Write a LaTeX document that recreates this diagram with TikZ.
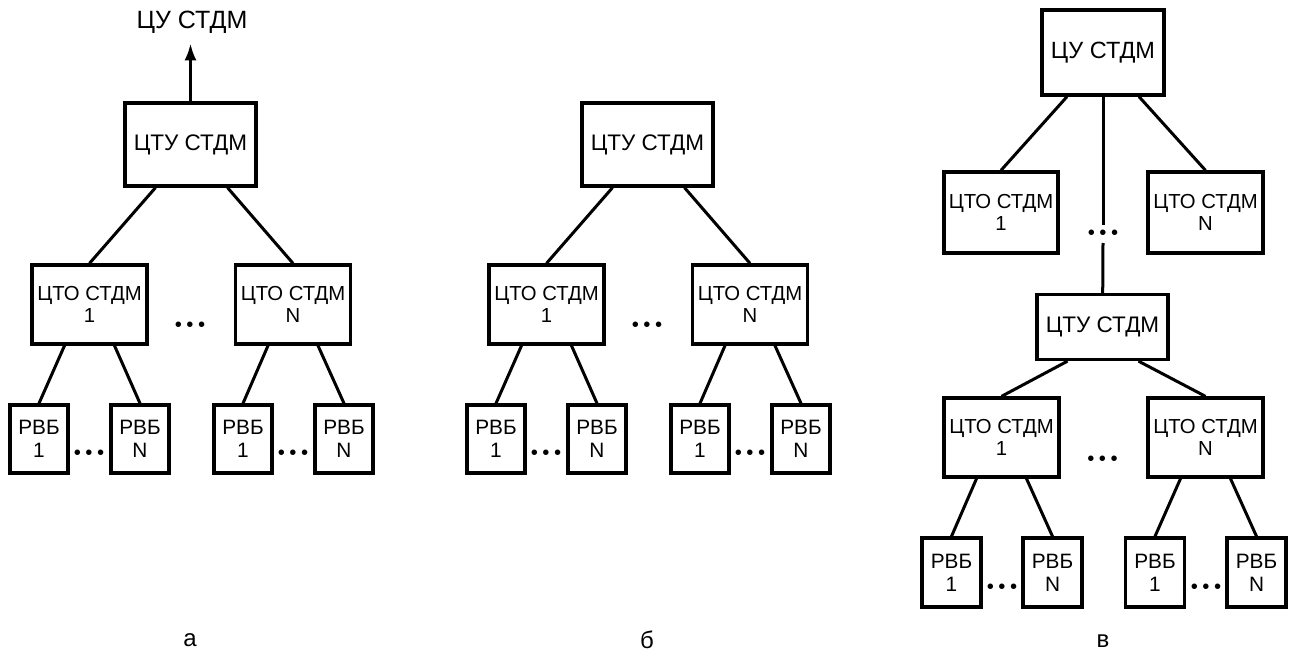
\documentclass[tikz,border=0pt]{standalone}
\usepackage{fontspec}
\setmainfont{Liberation Sans}
\usetikzlibrary{arrows.meta,positioning,calc}

\newcommand{\dotsrow}{\textbullet\hspace{4.5pt}\textbullet\hspace{4.5pt}\textbullet}

\begin{document}
\begin{tikzpicture}[
    x=1pt, y=-1pt,
    every node/.style={font=\fontsize{20.3}{22}\selectfont},
    box/.style={draw, line width=3.3pt, align=center, inner sep=0pt, minimum width=115pt, minimum height=79pt},
    topbox/.style={box, minimum width=131pt, minimum height=83pt, font=\fontsize{22.5}{26}\selectfont},
    leafbox/.style={box, minimum width=58pt, minimum height=68pt, font=\fontsize{20.8}{23}\selectfont},
    gapdots/.style={inner sep=0pt, anchor=base, yshift=-6.5pt},
    caption/.style={font=\fontsize{24}{28}\selectfont},
    link/.style={line width=3pt},
    arr/.style={-{Latex[length=17pt,width=12pt]}, line width=3pt},
  ]
  \useasboundingbox (0,0) rectangle (1293,655);

  % Panel a
  \node[font=\fontsize{25}{28}\selectfont] (cu_a) at (192,22) {ЦУ СТДМ};
  \node[topbox] (ctu_a) at (190.5,144.5) {ЦТУ СТДМ};
  \node[box] (cto1_a) at (89.5,304.5) {ЦТО СТДМ\\1};
  \node[box] (ctoN_a) at (293,304.5) {ЦТО СТДМ\\N};
  \node[gapdots] (dots_a) at (190,325) {\dotsrow};
  \node[leafbox] (rvb11_a) at (39,439) {РВБ\\1};
  \node[leafbox] (rvb1N_a) at (140,439) {РВБ\\N};
  \node[leafbox] (rvbN1_a) at (243,439) {РВБ\\1};
  \node[leafbox] (rvbNN_a) at (344,439) {РВБ\\N};
  \node[gapdots] (dots1_a) at (89,453) {\dotsrow};
  \node[gapdots] (dotsN_a) at (293,453) {\dotsrow};
  \node[caption] (cap_a) at (190,640) {а};

  \draw[arr] (ctu_a.north) -- ($(ctu_a.north)+(0,-58)$) coordinate (tip_a);
  \draw[link] ($(ctu_a.south)+(-35,0)$) -- (cto1_a.north);
  \draw[link] ($(ctu_a.south)+(37,0)$) -- (ctoN_a.north);
  \draw[link] ($(cto1_a.south)+(-25,0)$) -- (rvb11_a.north);
  \draw[link] ($(cto1_a.south)+(25,0)$) -- (rvb1N_a.north);
  \draw[link] ($(ctoN_a.south)+(-25,0)$) -- (rvbN1_a.north);
  \draw[link] ($(ctoN_a.south)+(25,0)$) -- (rvbNN_a.north);

  % Panel b
  \node[topbox] (ctu_b) at (647.5,144.5) {ЦТУ СТДМ};
  \node[box] (cto1_b) at (546.5,304.5) {ЦТО СТДМ\\1};
  \node[box] (ctoN_b) at (750,304.5) {ЦТО СТДМ\\N};
  \node[gapdots] (dots_b) at (647,325) {\dotsrow};
  \node[leafbox] (rvb11_b) at (496,439) {РВБ\\1};
  \node[leafbox] (rvb1N_b) at (597,439) {РВБ\\N};
  \node[leafbox] (rvbN1_b) at (700,439) {РВБ\\1};
  \node[leafbox] (rvbNN_b) at (801,439) {РВБ\\N};
  \node[gapdots] (dots1_b) at (546,453) {\dotsrow};
  \node[gapdots] (dotsN_b) at (750,453) {\dotsrow};
  \node[caption] (cap_b) at (647,640) {б};

  \draw[link] ($(ctu_b.south)+(-35,0)$) -- (cto1_b.north);
  \draw[link] ($(ctu_b.south)+(37,0)$) -- (ctoN_b.north);
  \draw[link] ($(cto1_b.south)+(-25,0)$) -- (rvb11_b.north);
  \draw[link] ($(cto1_b.south)+(25,0)$) -- (rvb1N_b.north);
  \draw[link] ($(ctoN_b.south)+(-25,0)$) -- (rvbN1_b.north);
  \draw[link] ($(ctoN_b.south)+(25,0)$) -- (rvbNN_b.north);

  % Panel v: upper level
  \node[topbox, minimum width=122pt, minimum height=85pt, font=\fontsize{23.5}{26}\selectfont] (cu_v) at (1103,52.5) {ЦУ СТДМ};
  \node[box, minimum width=114pt, minimum height=81pt] (ctoU1_v) at (1001,212.5) {ЦТО СТДМ\\1};
  \node[box, minimum height=81pt] (ctoUN_v) at (1205.5,212.5) {ЦТО СТДМ\\N};
  \coordinate (gap_v) at (1103,233);
  \node[gapdots] (vdots_v) at (gap_v) {\dotsrow};
  \node[topbox, minimum height=65pt] (ctu_v) at (1102.5,327) {ЦТУ СТДМ};

  \draw[link] ($(cu_v.south)+(-36,0)$) -- (ctoU1_v.north);
  \draw[link] ($(cu_v.south)+(36,0)$) -- (ctoUN_v.north);
  \draw[link] (cu_v) -- ($(gap_v)+(0,-8)$);
  \draw[link] ($(gap_v)+(0,10)$) -- (ctu_v);

  % Panel v: lower level
  \node[box] (cto1_v) at (1001.5,437.5) {ЦТО СТДМ\\1};
  \node[box] (ctoN_v) at (1205.5,437.5) {ЦТО СТДМ\\N};
  \node[gapdots] (dots_v) at (1102.5,459) {\dotsrow};
  \node[leafbox, minimum width=59pt, minimum height=69pt] (rvb11_v) at (951.5,572.5) {РВБ\\1};
  \node[leafbox, minimum width=59pt, minimum height=69pt] (rvb1N_v) at (1052.5,572.5) {РВБ\\N};
  \node[leafbox, minimum width=59pt, minimum height=69pt] (rvbN1_v) at (1155,572.5) {РВБ\\1};
  \node[leafbox, minimum width=59pt, minimum height=69pt] (rvbNN_v) at (1256.5,572.5) {РВБ\\N};
  \node[gapdots] (dots1_v) at (1002,587) {\dotsrow};
  \node[gapdots] (dotsN_v) at (1206,587) {\dotsrow};
  \node[caption] (cap_v) at (1103,641) {в};

  \draw[link] ($(ctu_v.south)+(-35,0)$) -- (cto1_v.north);
  \draw[link] ($(ctu_v.south)+(36,0)$) -- (ctoN_v.north);
  \draw[link] ($(cto1_v.south)+(-25,0)$) -- (rvb11_v.north);
  \draw[link] ($(cto1_v.south)+(25,0)$) -- (rvb1N_v.north);
  \draw[link] ($(ctoN_v.south)+(-25,0)$) -- (rvbN1_v.north);
  \draw[link] ($(ctoN_v.south)+(25,0)$) -- (rvbNN_v.north);

\end{tikzpicture}
\end{document}
